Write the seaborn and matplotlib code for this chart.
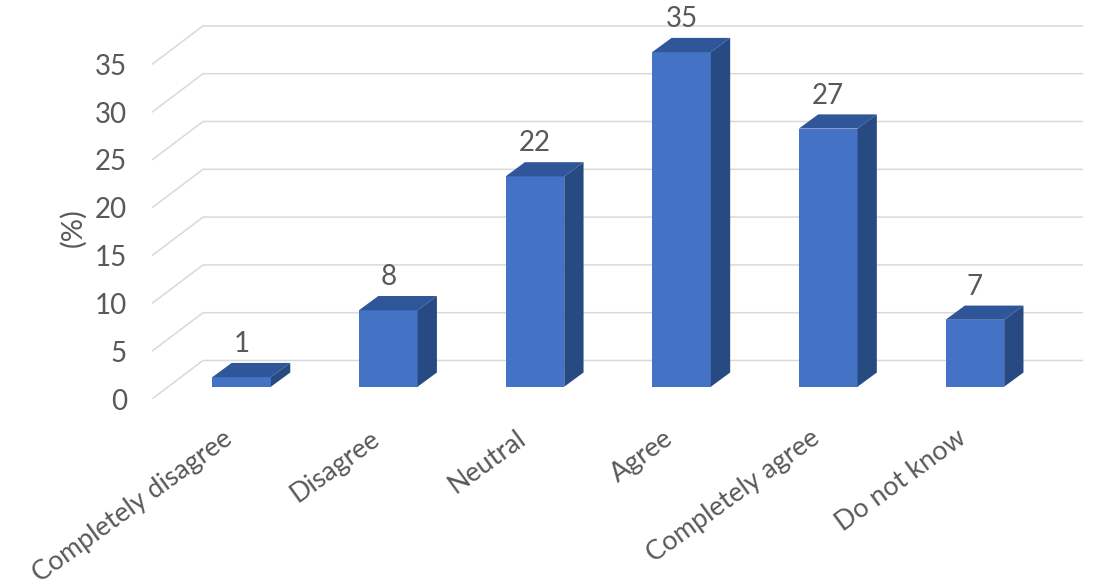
import matplotlib
matplotlib.use("Agg")
import matplotlib.pyplot as plt
import matplotlib.transforms as mtransforms
from matplotlib.patches import Polygon
import seaborn as sns
import pandas as pd

# Survey answers (%)
categories = ["Completely disagree", "Disagree", "Neutral", "Agree",
              "Completely agree", "Do not know"]
values = [1, 8, 22, 35, 27, 7]
y_ticks = [0, 5, 10, 15, 20, 25, 30, 35]

FRONT = "#4472C4"
TOP = "#30569A"
SIDE = "#284A82"
GRID = "#D9D9D9"
TEXT = "#595959"

sns.set_style("white")
plt.rcParams["font.family"] = ["Lato", "DejaVu Sans"]

fig = plt.figure(figsize=(10.94, 5.85), dpi=100)
W, H = 1094, 585
left_px, right_px, bottom_px, top_px = 152, 1090, 399, 10
ax = fig.add_axes([left_px / W, (H - bottom_px) / H,
                   (right_px - left_px) / W, (bottom_px - top_px) / H])

df = pd.DataFrame({"answer": categories, "pct": values})
sns.barplot(data=df, x="answer", y="pct", color=FRONT, width=0.4,
            saturation=1, ax=ax, zorder=3, linewidth=0)

# oblique projection: data units per pixel
x_per_px = 1 / 146.64
v_per_px = 1 / 9.56
ax.set_xlim((left_px - 241.65) * x_per_px, (right_px - 241.65) * x_per_px)
ax.set_ylim(0, (bottom_px - top_px) * v_per_px)

# back wall + floor-to-wall gridlines
wall_dx = (203 - left_px) * x_per_px
wall_dv = 38.5 * v_per_px
x_front = ax.get_xlim()[0]
x_back_end = (1083 - 241.65) * x_per_px
for v in y_ticks:
    ax.plot([x_front, x_front + wall_dx, x_back_end],
            [v, v + wall_dv, v + wall_dv],
            color=GRID, lw=1.1, zorder=1, solid_capstyle="butt")

# raise bars into the depth and add top/side faces
base = 12.3 * v_per_px
bar_dx = 19.3 * x_per_px
bar_dv = 14.2 * v_per_px
for patch, val in zip(ax.patches, values):
    patch.set_y(base)
    x0 = patch.get_x()
    x1 = x0 + patch.get_width()
    top = base + val
    ax.add_patch(Polygon([(x0, top), (x1, top), (x1 + bar_dx, top + bar_dv),
                          (x0 + bar_dx, top + bar_dv)],
                         closed=True, facecolor=TOP, edgecolor="none", zorder=3))
    ax.add_patch(Polygon([(x1, base), (x1 + bar_dx, base + bar_dv),
                          (x1 + bar_dx, top + bar_dv), (x1, top)],
                         closed=True, facecolor=SIDE, edgecolor="none", zorder=3))
    ax.text((x0 + x1) / 2, top + bar_dv + 0.6, f"{val}", ha="center",
            va="bottom", fontsize=20, color=TEXT, zorder=4)

for s in ax.spines.values():
    s.set_visible(False)

ax.set_yticks(y_ticks)
ax.tick_params(axis="y", length=0, pad=18, labelsize=20, labelcolor=TEXT)
ax.tick_params(axis="x", length=0, pad=19, labelsize=19.3, labelcolor=TEXT)
ax.set_xticks(range(len(categories)))
ax.set_xticklabels(categories, rotation=36, ha="right", va="top",
                   rotation_mode="anchor")
shift = mtransforms.ScaledTranslation(-19 / 100, 0, fig.dpi_scale_trans)
for lab in ax.get_xticklabels():
    lab.set_transform(lab.get_transform() + shift)

ax.set_xlabel("")
ax.set_ylabel("(%)", fontsize=21, color=TEXT)
ax.yaxis.set_label_coords((86 - left_px) / (right_px - left_px),
                          (bottom_px - 227.5) / (bottom_px - top_px))

fig.savefig("out.png", dpi=100)
